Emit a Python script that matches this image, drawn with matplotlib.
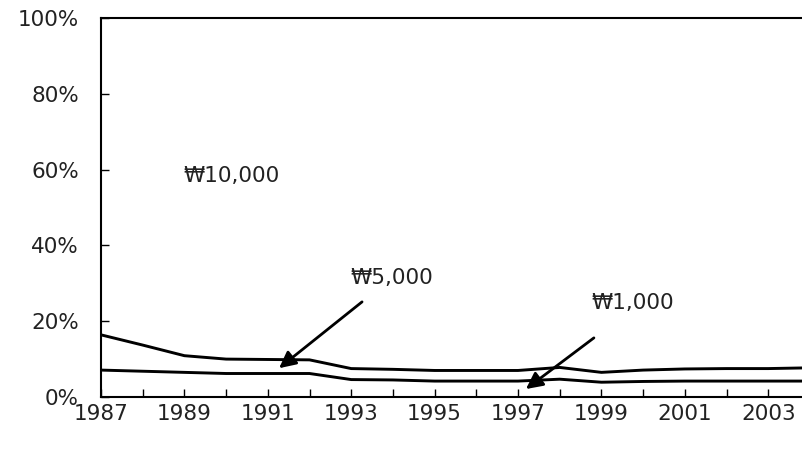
import numpy as np
import matplotlib
matplotlib.use("Agg")
import matplotlib.pyplot as plt
from matplotlib.ticker import FuncFormatter

plt.rcParams['font.family'] = ['DejaVu Sans']

years = np.arange(1987, 2005)
# cumulative share of notes (%)
share_5000 = [16.4, 13.7, 10.9, 10.0, 9.9, 9.8, 7.5, 7.3, 7.0, 7.0, 7.0, 7.8,
              6.5, 7.1, 7.4, 7.5, 7.5, 7.7]
share_1000 = [7.1, 6.8, 6.5, 6.2, 6.2, 6.2, 4.6, 4.5, 4.2, 4.2, 4.2, 4.7,
              3.9, 4.1, 4.2, 4.2, 4.2, 4.2]
labels = ["₩10,000", "₩5,000", "₩1,000"]

fig = plt.figure(figsize=(8.02, 4.51), dpi=100)
ax = fig.add_axes([101/802, 1-397/451, 701/802, 379/451])

ax.plot(years, share_5000, color="black", lw=2.1, solid_joinstyle="round")
ax.plot(years, share_1000, color="black", lw=2.1, solid_joinstyle="round")

ax.set_xlim(1987, 2003.81)
ax.set_ylim(0, 100)
ax.set_xticks(years[:-1])
ax.set_xticklabels([str(y) if (y - 1987) % 2 == 0 else "" for y in years[:-1]])
ax.set_yticks(np.arange(0, 101, 20))
ax.yaxis.set_major_formatter(FuncFormatter(lambda v, p: "%d%%" % v))
ax.tick_params(direction="in", length=6, width=1, labelsize=15.5,
               labelcolor="#222222", pad=5)
ax.tick_params(axis="y", pad=16)
ax.spines["right"].set_visible(False)
for s in ["left", "bottom", "top"]:
    ax.spines[s].set_linewidth(1.5)

ax.text(1988.97, 58.3, labels[0], fontsize=15.5, va="center", color="#222222")
ax.text(1992.97, 31.4, labels[1], fontsize=15.5, va="center", color="#222222")
ax.text(1998.75, 24.8, labels[2], fontsize=15.5, va="center", color="#222222")

arrow = dict(arrowstyle="-|>,head_length=1.0,head_width=0.5", color="black", lw=2, shrinkA=0, shrinkB=0)
ax.annotate("", xy=(1991.27, 7.6), xytext=(1993.26, 25.1), arrowprops=arrow)
ax.annotate("", xy=(1997.19, 2.1), xytext=(1998.82, 15.6), arrowprops=arrow)

fig.savefig("out.png", dpi=100)
